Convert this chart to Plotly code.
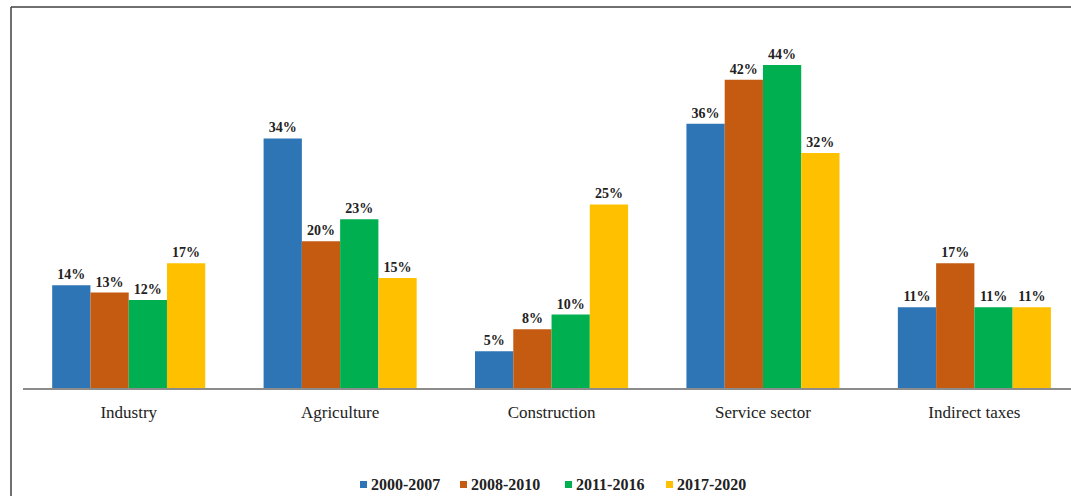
import plotly.graph_objects as go

# Sector shares of growth by period (%)
sectors = ["Industry", "Agriculture", "Construction", "Service sector", "Indirect taxes"]
periods = ["2000-2007", "2008-2010", "2011-2016", "2017-2020"]
share_2000_2007 = [14, 34, 5, 36, 11]
share_2008_2010 = [13, 20, 8, 42, 17]
share_2011_2016 = [12, 23, 10, 44, 11]
share_2017_2020 = [17, 15, 25, 32, 11]
colors = ["#2E75B6", "#C55A11", "#00B050", "#FFC000"]

series = [share_2000_2007, share_2008_2010, share_2011_2016, share_2017_2020]

SERIF = "Liberation Serif"

fig = go.Figure()
for name, vals, col in zip(periods, series, colors):
    fig.add_trace(go.Bar(
        x=sectors,
        y=vals,
        name=name,
        marker=dict(color=col, line=dict(width=0)),
        text=[f"{v}%" for v in vals],
        textposition="outside",
        textfont=dict(family=SERIF, size=14, color="#222222", weight="bold"),
        cliponaxis=False,
        showlegend=False,
    ))

W, H = 1071, 496
ml, mr, mt, mb = 23, 0, 7, 108
plot_h = H - mt - mb
plot_w = W - ml - mr

def px_x(p):
    return (p - ml) / plot_w

def px_y(p):
    return (H - mb - p) / plot_h

# outer frame: top edge and left edge
shapes = [
    dict(type="line", xref="paper", yref="paper",
         x0=px_x(11), x1=1.01, y0=px_y(7), y1=px_y(7),
         line=dict(color="#404040", width=1.5)),
    dict(type="line", xref="paper", yref="paper",
         x0=px_x(11), x1=px_x(11), y0=px_y(7), y1=px_y(497),
         line=dict(color="#404040", width=1.5)),
]
annotations = []

# key below the chart: small colour square + bold period label
key_left = [360, 460, 565, 666]
key_y = 484.5
for left, name, col in zip(key_left, periods, colors):
    shapes.append(dict(
        type="rect", xref="paper", yref="paper",
        x0=px_x(left), x1=px_x(left + 7),
        y0=px_y(key_y + 3.5), y1=px_y(key_y - 3.5),
        fillcolor=col, line=dict(width=0),
    ))
    annotations.append(dict(
        xref="paper", yref="paper",
        x=px_x(left + 9), y=px_y(key_y),
        xanchor="left", yanchor="middle",
        text=f"<b>{name}</b>", showarrow=False,
        font=dict(family=SERIF, size=16, color="#222222"),
    ))

fig.update_layout(
    width=W,
    height=H,
    margin=dict(l=ml, r=mr, t=mt, b=mb, pad=0, autoexpand=False),
    paper_bgcolor="white",
    plot_bgcolor="white",
    barmode="group",
    bargap=0.276,
    bargroupgap=0,
    font=dict(family=SERIF, color="#222222"),
    xaxis=dict(
        range=[-0.5, 4.457],
        showline=True,
        linecolor="#8C8C8C",
        linewidth=2,
        ticks="",
        showgrid=False,
        tickfont=dict(family=SERIF, size=17, color="#222222"),
        ticklabelstandoff=8,
    ),
    yaxis=dict(
        range=[0, 51.9],
        visible=False,
        showgrid=False,
    ),
    showlegend=False,
    shapes=shapes,
    annotations=annotations,
)

fig.write_html("out.html")
